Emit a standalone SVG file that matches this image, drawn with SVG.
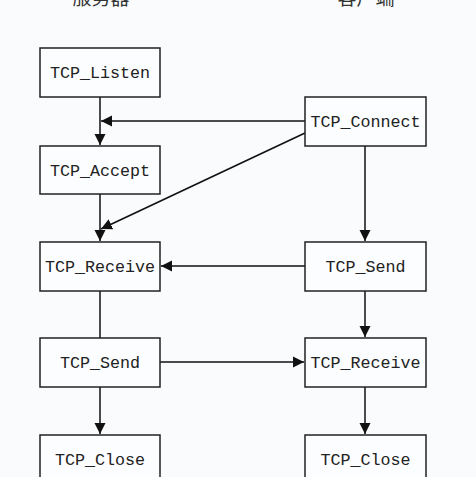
<svg xmlns="http://www.w3.org/2000/svg" width="476" height="477" viewBox="0 0 476 477">
<style>
.box{fill:#fcfdfe;stroke:#222;stroke-width:1.5}
.lbl{font-family:"Liberation Mono","DejaVu Sans Mono",monospace;font-size:16.7px;fill:#222;text-anchor:middle}
.hdr{font-family:"Liberation Serif","Noto Sans CJK SC",serif;font-size:19px;fill:#333;text-anchor:middle}
.c{stroke:#111;stroke-width:1.5;fill:none}
</style>
<defs>
<marker id="ah" markerUnits="userSpaceOnUse" markerWidth="12" markerHeight="12" viewBox="0 0 12 12" refX="11" refY="6" orient="auto">
<path d="M0,0.5 L11,6 L0,11.5 Z" fill="#111"/>
</marker>
</defs>
<rect width="476" height="477" fill="#f9fbfc"/>
<text class="hdr" x="101" y="5">服务器</text>
<text class="hdr" x="366" y="5">客户端</text>
<g id="connectors">
<line class="c" x1="100" y1="97" x2="100" y2="145" marker-end="url(#ah)"/>
<line class="c" x1="305" y1="121" x2="101" y2="121" marker-end="url(#ah)"/>
<line class="c" x1="305" y1="133" x2="101" y2="229" marker-end="url(#ah)"/>
<line class="c" x1="100" y1="194" x2="100" y2="241" marker-end="url(#ah)"/>
<line class="c" x1="365" y1="146" x2="365" y2="241" marker-end="url(#ah)"/>
<line class="c" x1="305" y1="266" x2="161" y2="266" marker-end="url(#ah)"/>
<line class="c" x1="100" y1="291" x2="100" y2="338"/>
<line class="c" x1="365" y1="291" x2="365" y2="337" marker-end="url(#ah)"/>
<line class="c" x1="160" y1="362" x2="304" y2="362" marker-end="url(#ah)"/>
<line class="c" x1="100" y1="387" x2="100" y2="434" marker-end="url(#ah)"/>
<line class="c" x1="365" y1="387" x2="365" y2="434" marker-end="url(#ah)"/>
</g>
<g id="s_listen"><rect class="box" x="40" y="48" width="120" height="49"/><text class="lbl" x="100" y="78">TCP_Listen</text></g>
<g id="s_accept"><rect class="box" x="40" y="146" width="120" height="48"/><text class="lbl" x="100" y="176">TCP_Accept</text></g>
<g id="s_receive"><rect class="box" x="40" y="242" width="120" height="49"/><text class="lbl" x="100" y="272">TCP_Receive</text></g>
<g id="s_send"><rect class="box" x="40" y="338" width="120" height="49"/><text class="lbl" x="100" y="368">TCP_Send</text></g>
<g id="s_close"><rect class="box" x="40" y="435" width="120" height="49"/><text class="lbl" x="100" y="465">TCP_Close</text></g>
<g id="c_connect"><rect class="box" x="305" y="97" width="121" height="49"/><text class="lbl" x="365.5" y="127">TCP_Connect</text></g>
<g id="c_send"><rect class="box" x="305" y="242" width="121" height="49"/><text class="lbl" x="365.5" y="272">TCP_Send</text></g>
<g id="c_receive"><rect class="box" x="305" y="338" width="121" height="49"/><text class="lbl" x="365.5" y="368">TCP_Receive</text></g>
<g id="c_close"><rect class="box" x="305" y="435" width="121" height="49"/><text class="lbl" x="365.5" y="465">TCP_Close</text></g>
</svg>
